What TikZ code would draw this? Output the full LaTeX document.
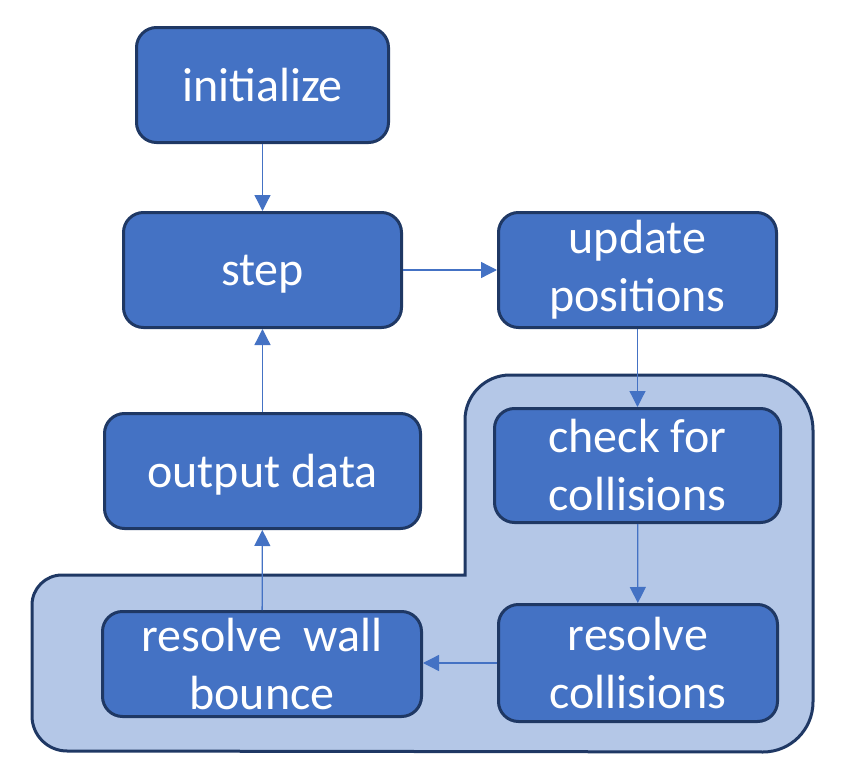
\documentclass[tikz,border=0pt]{standalone}
\usepackage{fontspec}
\setmainfont{Carlito}
\usepackage{tikz}
\usetikzlibrary{arrows.meta,calc,positioning,shapes}
\definecolor{boxblue}{HTML}{4472C4}
\definecolor{boxedge}{HTML}{1F3864}
\definecolor{zoneblue}{HTML}{B4C7E7}
\tikzset{%
	process/.style = {draw=boxedge, fill=boxblue, line width=1.5pt, rectangle, rounded corners=10pt, text=white, align=center, inner sep=0pt, font=\fontsize{24}{29}\selectfont},
	arrow/.style   = {draw=boxblue, line width=0.65pt, -{Triangle[width=8pt,length=8pt]}},
	zone/.style    = {draw=boxedge, fill=zoneblue, line width=1.5pt},
}
\begin{document}
\begin{tikzpicture}[x=0.5pt,y=-0.5pt]
	\useasboundingbox (0,0) rectangle (859,776);
	
	% collision part
	\draw[zone] (465,575) -- (465,420) arc[start angle=180, end angle=270, radius=45]
		-- (758,375) arc[start angle=270, end angle=360, radius=55]
		-- (813,702) arc[start angle=0, end angle=90, radius=50]
		-- (67,751) arc[start angle=90, end angle=180, radius=35]
		-- (32,605) arc[start angle=180, end angle=270, radius=30] -- cycle;
	
	\node[process, minimum width=126pt, minimum height=57.5pt] (init) at (262.5,85) {initialize};
	\node[process, minimum width=139pt, minimum height=57.5pt, text depth=0pt] (step) at (262.5,270) {step};
	\node[process, minimum width=139pt, minimum height=57.5pt] (update) at (637.5,270) {update\\positions};
	\node[process, minimum width=158pt, minimum height=57.5pt, text depth=0pt] (output) at (262.5,471) {output data};
	\node[process, minimum width=143pt, minimum height=57pt] (check) at (637.5,465.5) {check for\\collisions};
	\node[process, minimum width=139.5pt, minimum height=58.5pt] (resolve) at (638,663) {resolve\\collisions};
	\node[process, minimum width=159.5pt, minimum height=52.5pt] (wall) at (262,664) {resolve\ \ wall\\bounce};
	
	\draw[arrow] (init) -- (step);
	\draw[arrow] (step) -- (update);
	\draw[arrow] (update) -- (check);
	\draw[arrow] (check) -- (resolve);
	\draw[arrow] (resolve.west) -- (wall.east |- resolve.west);
	\draw[arrow] (wall) -- (output);
	\draw[arrow] (output) -- (step);  % back to step
	
\end{tikzpicture}
\end{document}
